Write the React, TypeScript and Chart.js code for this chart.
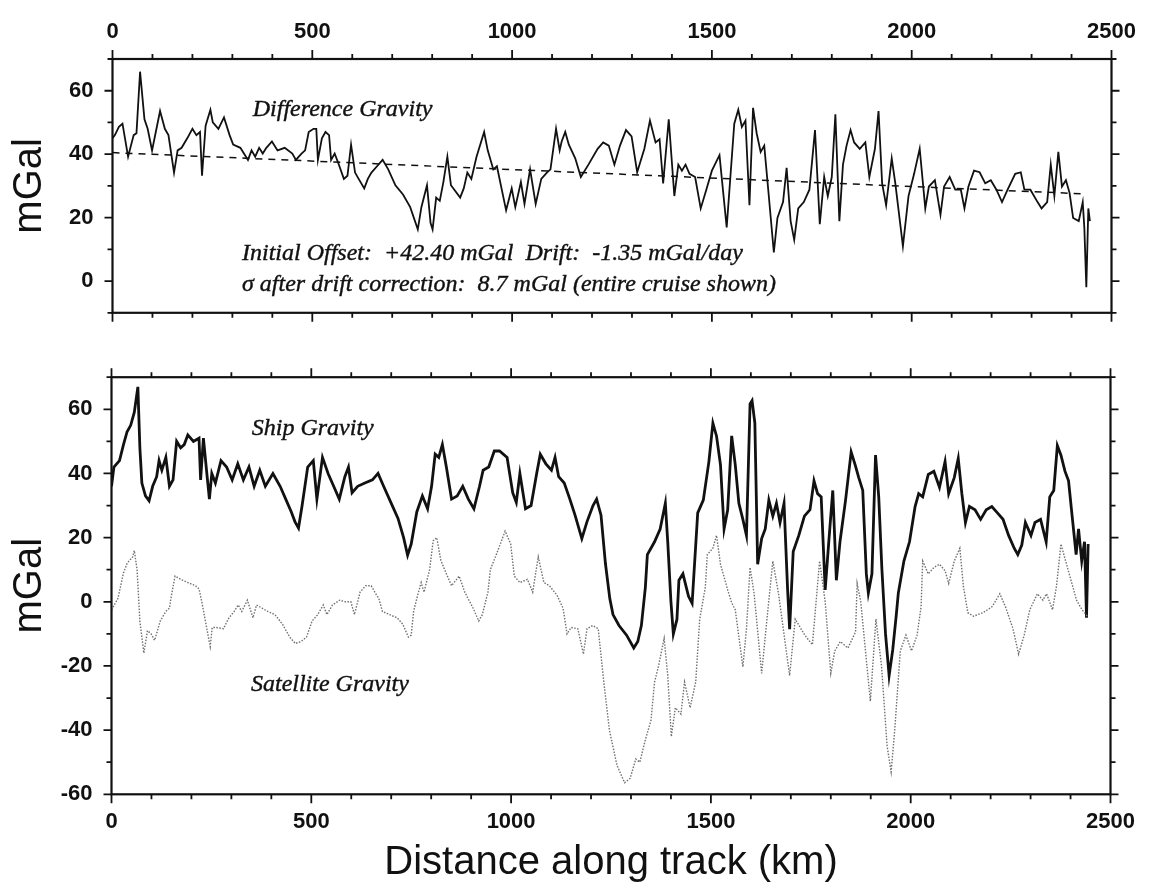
import React, { useEffect, useRef } from "react";
import { Chart, registerables } from "chart.js";

Chart.register(...registerables);

// ---------- data (km along track, mGal) ----------
const X_TICKS = [0, 500, 1000, 1500, 2000, 2500];
const TOP_Y_TICKS = [0, 20, 40, 60];
const BOTTOM_Y_TICKS = [-60, -40, -20, 0, 20, 40, 60];

const differenceGravity: [number, number][] = [
  [0, 45], [6, 46], [16, 48.6], [25, 49.6], [39, 39.2], [53, 46], [60, 46.6], [69, 66], [80, 51], [88, 48],
  [99, 41.2], [119, 53.6], [131, 48], [140, 46], [154, 34.2], [163, 41.2], [173, 42], [187, 45], [200, 48], [210, 46],
  [219, 47], [224, 33.2], [233, 49], [245, 54], [251, 50], [265, 48], [279, 51.6], [293, 46], [302, 43], [320, 42],
  [339, 38.2], [348, 41.2], [357, 39.2], [367, 42], [376, 40.2], [385, 42], [399, 44], [413, 41.2], [431, 42], [450, 40.2],
  [459, 38.2], [473, 40.2], [482, 41.2], [491, 47], [503, 48], [510, 48], [514, 38.2], [524, 45], [533, 47], [542, 46],
  [547, 38.2], [556, 40.2], [565, 37.2], [579, 32.2], [588, 33.2], [597, 43], [607, 34.2], [616, 32.2], [630, 29.2], [639, 32.2],
  [648, 34.2], [662, 36.2], [676, 38.2], [690, 35.2], [708, 30.2], [727, 27.3], [745, 23.3], [764, 16.3], [773, 23.3], [787, 30.2],
  [796, 18.3], [801, 16.3], [810, 26.3], [819, 25.3], [828, 31.2], [838, 39.2], [847, 30.2], [870, 26.3], [879, 29.2], [888, 34.2],
  [898, 32.2], [911, 39.2], [930, 47], [939, 41.2], [953, 35.2], [962, 36.2], [985, 22.3], [999, 29.2], [1008, 23.3], [1022, 31.2],
  [1031, 24.3], [1045, 35.2], [1059, 24.3], [1073, 32.2], [1087, 34.2], [1096, 35.2], [1110, 48], [1119, 41.2], [1124, 44], [1133, 47],
  [1142, 43], [1158, 38.7], [1172, 32.8], [1191, 36.7], [1214, 41.7], [1228, 43.7], [1242, 42.7], [1256, 36.7], [1270, 42.7], [1285, 47.6],
  [1299, 45.6], [1313, 34.3], [1331, 41.7], [1345, 50.6], [1359, 43.7], [1369, 44.7], [1378, 30.8], [1392, 51], [1406, 26.8], [1416, 36.7],
  [1425, 34.8], [1434, 36.7], [1444, 33.8], [1458, 32.8], [1472, 22.9], [1486, 28.8], [1500, 34.8], [1519, 39.7], [1537, 16.9], [1556, 49.6],
  [1566, 54], [1575, 48.6], [1584, 50.6], [1594, 23.9], [1603, 54.6], [1612, 46.6], [1622, 40.7], [1631, 42.7], [1641, 28.8], [1655, 9],
  [1664, 19.9], [1678, 24.9], [1687, 35.7], [1697, 18.9], [1706, 13], [1716, 22.9], [1730, 24.9], [1744, 28.8], [1758, 47.6], [1770, 17.9],
  [1781, 32.8], [1790, 26.8], [1800, 32.8], [1809, 52.6], [1819, 18.9], [1828, 36.7], [1837, 42.7], [1847, 47.6], [1856, 43.7], [1870, 41.7],
  [1884, 43.7], [1894, 32.8], [1908, 41.7], [1917, 53.6], [1926, 30.8], [1936, 23.9], [1950, 38.7], [1959, 30.8], [1978, 11], [1992, 26.8],
  [2006, 33.8], [2020, 41.7], [2034, 22.9], [2043, 29.8], [2058, 31.8], [2072, 20.9], [2081, 29.8], [2095, 32.8], [2109, 28.8], [2123, 28.8],
  [2132, 22.9], [2142, 29.8], [2156, 34.8], [2170, 34.3], [2184, 30.8], [2198, 31.8], [2212, 28.8], [2226, 24.9], [2240, 28.8], [2259, 33.8],
  [2273, 34.3], [2282, 28.8], [2297, 28.8], [2315, 24.9], [2325, 22.9], [2339, 24.9], [2348, 36.7], [2357, 26.8], [2367, 40.7], [2376, 29.8],
  [2386, 31.8], [2395, 27.8], [2404, 19.9], [2418, 18.9], [2428, 24.9], [2432, 16.9], [2437, -1.9], [2442, 22.9], [2446, 18.9],
];

const driftLine: [number, number][] = [
  [0, 40.5],
  [2430, 27.5],
];

const shipGravity: [number, number][] = [
  [0, 36], [6, 42], [20, 44], [30, 49], [39, 53], [48, 55], [57, 59], [66, 67], [71, 48], [76, 37],
  [85, 33], [94, 31.5], [103, 36], [113, 39], [119, 44], [126, 41], [136, 45], [145, 36], [154, 38], [163, 50],
  [173, 48], [182, 49], [191, 52], [205, 50], [219, 51], [223, 38], [230, 51], [237, 42], [245, 32], [251, 40],
  [260, 37], [274, 44], [288, 42], [302, 38], [316, 43], [330, 38], [344, 42], [357, 36], [371, 41], [385, 36],
  [404, 40], [422, 36], [436, 32], [450, 28], [459, 25], [468, 23], [477, 30], [491, 42], [505, 44], [514, 32],
  [528, 45], [542, 40], [556, 36], [570, 32], [584, 39], [593, 42], [602, 34], [616, 36], [634, 37], [653, 38],
  [667, 40], [681, 36], [699, 31], [717, 26], [731, 20], [741, 14.5], [750, 18], [764, 28], [778, 33], [791, 29],
  [801, 36], [810, 46], [819, 45], [828, 49], [838, 42], [851, 32], [865, 33], [879, 36], [893, 32], [907, 29],
  [921, 36], [930, 41], [944, 42], [958, 47], [971, 47], [990, 45], [1004, 34], [1013, 31], [1022, 40], [1036, 29],
  [1050, 30], [1064, 40], [1073, 46], [1087, 43], [1101, 41], [1110, 45], [1119, 39], [1133, 37], [1147, 32], [1160, 27],
  [1177, 19.7], [1190, 25], [1205, 30], [1214, 32], [1225, 27], [1236, 12], [1247, 1], [1255, -4], [1270, -7.4], [1289, -10.4],
  [1307, -14.4], [1317, -12.4], [1326, -7.4], [1336, 4.5], [1341, 14.7], [1350, 16.7], [1359, 18.7], [1373, 22.7], [1386, 30.7], [1392, 18.7],
  [1400, 0], [1406, -10], [1415, -5.5], [1420, 6.7], [1430, 8.7], [1444, 1.7], [1453, -0.5], [1467, 27.7], [1481, 31.7], [1495, 43.7],
  [1505, 55.7], [1514, 51.7], [1524, 42.7], [1533, 22.7], [1542, 28.7], [1552, 51.7], [1561, 42.7], [1570, 30.7], [1580, 25.7], [1589, 20.7],
  [1598, 61.7], [1603, 62.7], [1610, 55.7], [1617, 11.7], [1627, 19.7], [1636, 22.7], [1645, 31.7], [1655, 26.7], [1664, 30.7], [1673, 24.7],
  [1683, 30.7], [1692, 3.7], [1697, -8.5], [1706, 15.7], [1720, 20.7], [1734, 26.7], [1748, 28.7], [1758, 37.7], [1767, 33.7], [1776, 32.7],
  [1786, 3.7], [1795, 18.7], [1805, 34.7], [1814, 6.7], [1823, 18.7], [1837, 31.7], [1851, 46.7], [1861, 42.7], [1870, 38.7], [1880, 34.7],
  [1889, 8.7], [1894, 2.7], [1903, 8.7], [1912, 45.7], [1920, 32.7], [1928, 10], [1937, -10], [1946, -23], [1955, -15], [1964, -4],
  [1969, 2.7], [1983, 12.7], [1997, 18.7], [2011, 29.7], [2020, 33.7], [2030, 32.7], [2044, 39.7], [2058, 40.7], [2072, 35.7], [2086, 43.7],
  [2095, 33.7], [2109, 38.7], [2119, 44.7], [2128, 33.7], [2137, 24.7], [2147, 29.7], [2161, 28.7], [2175, 25.7], [2189, 28.7], [2203, 29.7],
  [2217, 27.7], [2231, 25.7], [2245, 20.7], [2259, 16.7], [2268, 14.7], [2278, 17.7], [2287, 24.7], [2301, 20.7], [2311, 24.7], [2325, 25.7],
  [2339, 18.7], [2348, 32.7], [2358, 34.7], [2367, 48.7], [2376, 45.7], [2386, 40.7], [2395, 37.7], [2404, 26.7], [2414, 14.7], [2420, 22.7],
  [2428, 12.7], [2435, 18.7], [2440, -5], [2444, 18],
];

const satelliteGravity: [number, number][] = [
  [0, -2.5], [16, 1], [30, 9], [39, 12], [53, 14], [57, 16], [64, 10], [71, -6], [81, -16], [90, -9],
  [99, -10], [108, -12], [122, -6], [136, -3], [145, -2], [150, 2], [159, 8], [173, 7], [191, 6], [210, 5],
  [219, 4], [226, 0], [238, -8], [247, -14], [252, -8], [261, -8], [280, -8.4], [294, -5], [307, -3], [317, -1],
  [326, -3], [340, 0.5], [354, -5], [363, -1], [377, -2], [391, -3], [409, -4], [428, -7], [446, -11], [460, -13],
  [474, -12.4], [488, -11], [502, -6], [516, -4], [530, -1], [539, -4], [553, -1], [571, 0.5], [585, 0], [599, 0],
  [608, -4], [622, 3], [636, 5], [650, 5], [659, 3], [669, 1], [678, -3], [696, -4], [715, -5], [729, -7],
  [743, -11], [750, -10.4], [756, -3], [766, 2], [775, 6], [782, 3], [796, 10], [805, 19], [814, 20], [824, 13],
  [837, 9], [851, 5], [870, 8], [884, 3], [905, -2], [919, -6], [928, -4], [942, 3], [948, 10], [967, 16],
  [985, 22], [999, 18], [1008, 8], [1022, 6], [1041, 7], [1054, 3], [1068, 14], [1082, 6], [1096, 5], [1115, 2],
  [1130, -2], [1140, -10], [1150, -8], [1167, -8.4], [1181, -16.3], [1190, -8.4], [1204, -7.4], [1218, -8.4], [1232, -25], [1246, -40],
  [1265, -51], [1284, -56.4], [1298, -55], [1312, -49], [1322, -50], [1336, -43], [1350, -37], [1359, -25], [1369, -20], [1383, -11.4],
  [1392, -23], [1401, -42], [1411, -33], [1425, -35], [1434, -25], [1448, -33], [1462, -25], [1472, -5.4], [1486, 4.5], [1491, 14.7],
  [1505, 16.7], [1514, 20.7], [1524, 11.7], [1542, 3.7], [1552, -0.3], [1561, -2.5], [1580, -20.3], [1589, -8.4], [1598, 10.7], [1608, 2.7],
  [1627, -22.3], [1641, -4.5], [1655, 12.7], [1669, 2.7], [1697, -23], [1711, -5.4], [1735, -10.4], [1754, -13.4], [1772, 12.7], [1786, 0],
  [1800, -22.3], [1810, -15.3], [1824, -12.4], [1843, -14.4], [1862, -9.4], [1866, 5.7], [1875, 0], [1899, -31], [1913, -5.4], [1927, -20],
  [1941, -45], [1951, -53], [1960, -40], [1974, -15.3], [1988, -10.4], [2002, -15.3], [2016, -10.4], [2026, -1.5], [2030, 12.7], [2044, 8.7],
  [2058, 10.7], [2072, 11.7], [2086, 9.7], [2095, 5.7], [2109, 12.7], [2123, 16.7], [2132, 4.7], [2143, -3.4], [2157, -4.5], [2181, -3.4],
  [2204, -1.5], [2223, 2.5], [2237, -1.5], [2256, -8.4], [2270, -16.3], [2284, -10.4], [2298, -2.5], [2317, 2.5], [2331, 0.5], [2340, 2.5],
  [2355, -2.5], [2365, 5], [2376, 18], [2390, 11.7], [2405, 5], [2415, 0.5], [2429, -2.5], [2442, -4.5],
];

const TOP_NOTES = [
  { text: "Difference Gravity", x: 351, y: 53.9 },
  { text: "Initial Offset:  +42.40 mGal  Drift:  -1.35 mGal/day", x: 324, y: 8.7 },
  { text: "\u03c3 after drift correction:  8.7 mGal (entire cruise shown)", x: 324, y: -1.1 },
];
const BOTTOM_NOTES = [
  { text: "Ship Gravity", x: 351, y: 54 },
  { text: "Satellite Gravity", x: 349, y: -25.8 },
];

// ---------- styling ----------
const SANS = '"Liberation Sans", Arial, Helvetica, sans-serif';
const SERIF = '"Liberation Serif", "Times New Roman", serif';
const INK = "#111";
const TICK_FONT = { family: SANS, size: 22, weight: "bold" as const };

const toPoints = (pairs: [number, number][]) => pairs.map(([x, y]) => ({ x, y }));

function frameTicks(xMinor: number, xMajor: number, yMinor: number, yMajor: number) {
  return {
    id: "frameTicks",
    afterDraw(chart: any) {
      const { ctx, chartArea: a } = chart;
      const xs = chart.scales.x;
      const ys = chart.scales.y;
      ctx.save();
      ctx.strokeStyle = INK;
      ctx.lineWidth = 2.2;
      ctx.strokeRect(a.left, a.top, a.right - a.left, a.bottom - a.top);
      ctx.lineWidth = 1.8;
      ctx.beginPath();
      for (let v = xs.min; v <= xs.max + 1e-6; v += xMinor) {
        const p = xs.getPixelForValue(v);
        const len = Math.abs(v % xMajor) < 1e-6 ? 9 : 5;
        ctx.moveTo(p, a.top);
        ctx.lineTo(p, a.top - len);
        ctx.moveTo(p, a.bottom);
        ctx.lineTo(p, a.bottom + len);
      }
      for (let v = ys.min; v <= ys.max + 1e-6; v += yMinor) {
        const p = ys.getPixelForValue(v);
        const len = Math.abs(v % yMajor) < 1e-6 ? 8 : 5;
        ctx.moveTo(a.left, p);
        ctx.lineTo(a.left - len, p);
        ctx.moveTo(a.right, p);
        ctx.lineTo(a.right + len, p);
      }
      ctx.stroke();
      ctx.restore();
    },
  };
}

function notesPlugin(items: { text: string; x: number; y: number }[]) {
  return {
    id: "notes",
    afterDatasetsDraw(chart: any) {
      const { ctx } = chart;
      ctx.save();
      ctx.font = `italic 24px ${SERIF}`;
      ctx.fillStyle = INK;
      ctx.strokeStyle = INK;
      ctx.lineWidth = 0.4;
      ctx.textAlign = "left";
      ctx.textBaseline = "middle";
      for (const n of items) {
        const px = chart.scales.x.getPixelForValue(n.x);
        const py = chart.scales.y.getPixelForValue(n.y);
        ctx.fillText(n.text, px, py);
        ctx.strokeText(n.text, px, py);
      }
      ctx.restore();
    },
  };
}

function xScale(position: "top" | "bottom", height: number, withTitle: boolean, padding: number) {
  return {
    type: "linear",
    position,
    min: 0,
    max: 2500,
    afterBuildTicks: (s: any) => {
      s.ticks = X_TICKS.map((value) => ({ value }));
    },
    afterFit: (s: any) => {
      s.height = height;
    },
    grid: { display: false, drawTicks: false },
    border: { display: false },
    ticks: {
      font: TICK_FONT,
      color: INK,
      padding,
      autoSkip: false,
      maxRotation: 0,
      minRotation: 0,
      callback: (v: any) => String(v),
    },
    title: {
      display: withTitle,
      text: "Distance along track (km)",
      color: INK,
      font: { family: SANS, size: 40, lineHeight: 1.15 },
      padding: { top: 0, bottom: 0 },
    },
  };
}

function yScale(min: number, max: number, tickValues: number[], width: number) {
  return {
    type: "linear",
    position: "left",
    min,
    max,
    afterBuildTicks: (s: any) => {
      s.ticks = tickValues.map((value) => ({ value }));
    },
    afterFit: (s: any) => {
      s.width = width;
    },
    grid: { display: false, drawTicks: false },
    border: { display: false },
    ticks: { font: TICK_FONT, color: INK, padding: 19, callback: (v: any) => String(v) },
    title: {
      display: true,
      text: "mGal",
      color: INK,
      font: { family: SANS, size: 40, lineHeight: 1.2 },
      padding: { top: 6, bottom: 0 },
    },
  };
}

const commonOptions = {
  responsive: false,
  animation: false as const,
  events: [] as any[],
  plugins: { legend: { display: false }, tooltip: { enabled: false } },
  elements: { point: { radius: 0 }, line: { tension: 0 } },
};

export default function App() {
  const topRef = useRef<HTMLCanvasElement | null>(null);
  const bottomRef = useRef<HTMLCanvasElement | null>(null);

  useEffect(() => {
    const top = new Chart(topRef.current as HTMLCanvasElement, {
      type: "line",
      data: {
        datasets: [
          {
            label: "Difference Gravity",
            data: toPoints(differenceGravity),
            borderColor: INK,
            borderWidth: 1.8,
            fill: false,
          },
          {
            label: "Drift",
            data: toPoints(driftLine),
            borderColor: INK,
            borderWidth: 1.5,
            borderDash: [7, 6],
            fill: false,
          },
        ],
      },
      options: {
        ...commonOptions,
        layout: { padding: { left: 0, top: 0, right: 45.5, bottom: 16.7 } },
        scales: {
          x: xScale("top", 59, false, 13.5),
          y: yScale(-10, 70, TOP_Y_TICKS, 112.5),
        },
      } as any,
      plugins: [frameTicks(100, 500, 10, 20), notesPlugin(TOP_NOTES)],
    });

    const bottom = new Chart(bottomRef.current as HTMLCanvasElement, {
      type: "line",
      data: {
        datasets: [
          {
            label: "Satellite Gravity",
            data: toPoints(satelliteGravity),
            borderColor: "#707070",
            borderWidth: 1.4,
            borderDash: [1.5, 1.5],
            fill: false,
          },
          {
            label: "Ship Gravity",
            data: toPoints(shipGravity),
            borderColor: INK,
            borderWidth: 2.8,
            fill: false,
          },
        ],
      },
      options: {
        ...commonOptions,
        layout: { padding: { left: 0, top: 14.3, right: 46.5, bottom: 0 } },
        scales: {
          x: xScale("bottom", 91.7, true, 14),
          y: yScale(-60, 70, BOTTOM_Y_TICKS, 111.5),
        },
      } as any,
      plugins: [frameTicks(100, 500, 10, 20), notesPlugin(BOTTOM_NOTES)],
    });

    return () => {
      top.destroy();
      bottom.destroy();
    };
  }, []);

  return (
    <div style={{ position: "absolute", left: 0, top: 0, width: 1157, height: 886, background: "#fff" }}>
      <canvas ref={topRef} width={1157} height={345} style={{ position: "absolute", left: 0, top: 0, display: "block" }} />
      <canvas ref={bottomRef} width={1157} height={541} style={{ position: "absolute", left: 0, top: 345, display: "block" }} />
    </div>
  );
}
